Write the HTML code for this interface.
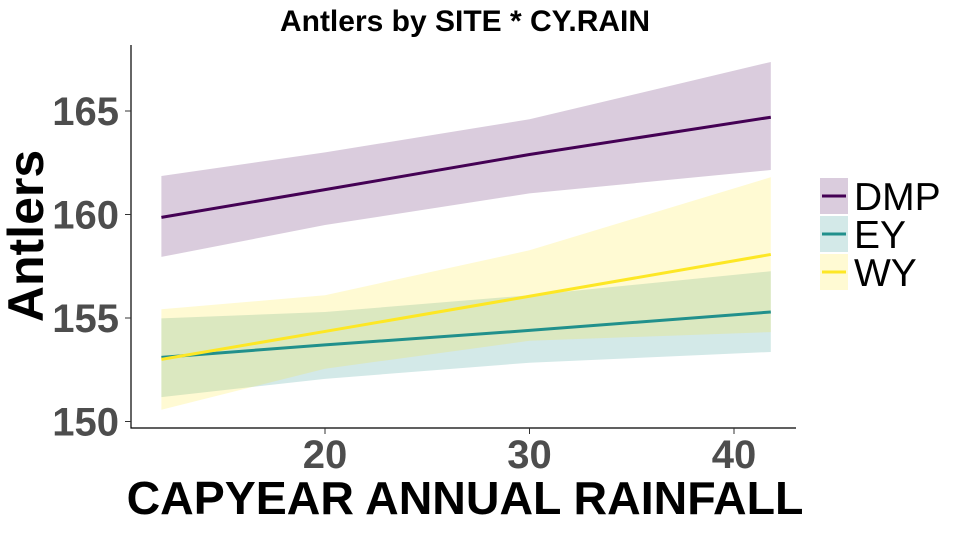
<!DOCTYPE html>
<html><head><meta charset="utf-8"><style>
body{margin:0;background:#fff}
svg text{font-family:"Liberation Sans",Arial,sans-serif}
</style></head><body>
<svg id="c" width="961" height="530" xmlns="http://www.w3.org/2000/svg">
<rect width="961" height="530" fill="#fff"/>
<g id="plot"></g>
<text x="465" y="31" text-anchor="middle" font-size="30" font-weight="bold" fill="#000">Antlers by SITE * CY.RAIN</text>
<text transform="translate(43,236) rotate(-90)" text-anchor="middle" font-size="50" font-weight="bold" fill="#000">Antlers</text>
<text x="465" y="514" text-anchor="middle" font-size="46.5" font-weight="bold" fill="#000">CAPYEAR ANNUAL RAINFALL</text>
<g id="legend"></g>
</svg>
<script>
const xs=[12,20,30,41.8];
const seriesNames=["DMP","EY","WY"];
const fitDMP=[159.86,161.2,162.9,164.7];
const lowDMP=[157.95,159.49,161.02,162.15];
const upDMP=[161.86,163.0,164.6,167.37];
const fitEY=[153.1,153.7,154.4,155.29];
const lowEY=[151.18,152.06,152.84,153.36];
const upEY=[154.98,155.29,156.1,157.26];
const fitWY=[153.0,154.35,156.05,158.07];
const lowWY=[150.57,152.55,153.9,154.32];
const upWY=[155.42,156.1,158.27,161.8];
const xTicks=[20,30,40];
const yTicks=[150,155,160,165];
const colors=["#440154","#21908C","#FDE725"];
const NS="http://www.w3.org/2000/svg";
const X=v=>325+(v-20)*20.45;
const Y=v=>421.5-(v-150)*20.7;
const plot=document.getElementById('plot');
function mk(t,a,p){const e=document.createElementNS(NS,t);for(const k in a)e.setAttribute(k,a[k]);(p||plot).appendChild(e);return e;}
const fits=[fitDMP,fitEY,fitWY],lows=[lowDMP,lowEY,lowWY],ups=[upDMP,upEY,upWY];
for(let s=0;s<3;s++){
  const pts=xs.map((x,i)=>X(x)+','+Y(ups[s][i])).concat(xs.slice().reverse().map((x,j)=>{const i=xs.length-1-j;return X(x)+','+Y(lows[s][i]);}));
  const b=mk('polygon',{points:pts.join(' '),fill:colors[s],'fill-opacity':0.2});
  
  
}
for(let s=0;s<3;s++){
  const l=mk('polyline',{points:xs.map((x,i)=>X(x)+','+Y(fits[s][i])).join(' '),fill:'none',stroke:colors[s],'stroke-width':3});
  
  
}
const ax=mk('path',{d:'M131,45V428H796',fill:'none',stroke:'#000','stroke-width':1.2});


xTicks.forEach(t=>{
  const tk=mk('line',{x1:X(t),x2:X(t),y1:428,y2:434,stroke:'#333'});
  
  
  const tx=mk('text',{x:X(t),y:468,'text-anchor':'middle','font-size':40,'font-weight':'bold',fill:'#4d4d4d'});
  tx.textContent=t;
  
  
});
yTicks.forEach(t=>{
  const tk=mk('line',{x1:125,x2:131,y1:Y(t),y2:Y(t),stroke:'#333'});
  
  
  const tx=mk('text',{x:119,y:Y(t)+14,'text-anchor':'end','font-size':40,'font-weight':'bold',fill:'#4d4d4d'});
  tx.textContent=t;
  
  
});
const lg=document.getElementById('legend');
seriesNames.forEach((n,i)=>{
  const y0=178+i*38;
  const r=mk('rect',{x:820,y:y0,width:28,height:36,fill:colors[i],'fill-opacity':0.2},lg);
  
  
  const l=mk('line',{x1:822,x2:846,y1:y0+18,y2:y0+18,stroke:colors[i],'stroke-width':3},lg);
  
  
  const t=mk('text',{x:854,y:y0+32,'font-size':39,fill:'#000'},lg);
  t.textContent=n;
  
  
});
</script>
</body></html>
